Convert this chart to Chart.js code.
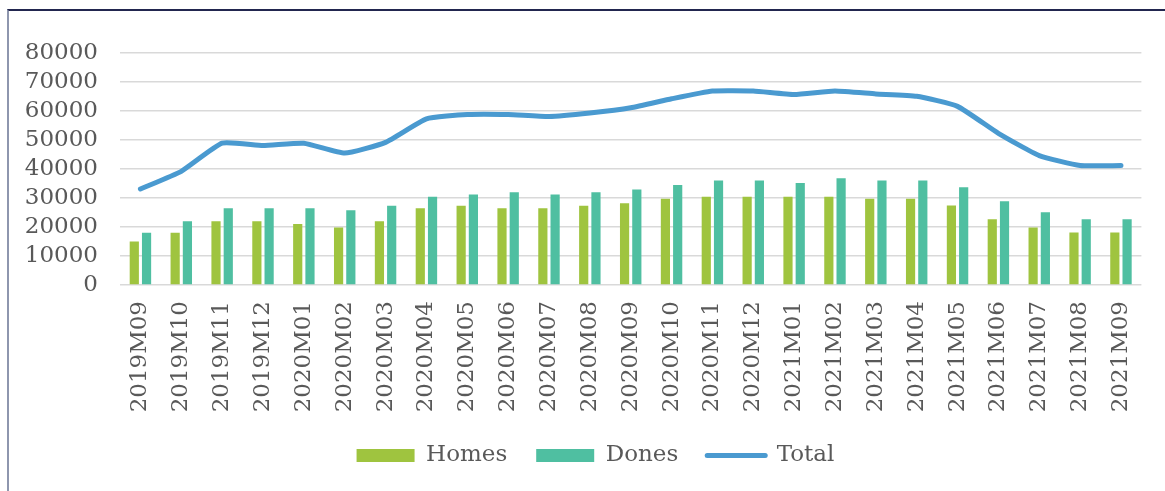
<!DOCTYPE html>
<html>
<head>
<meta charset="utf-8">
<script src="https://cdn.jsdelivr.net/npm/chart.js@4.4.1/dist/chart.umd.min.js"></script>
<style>
  html, body { margin: 0; padding: 0; background: #fff; }
  #wrap { position: relative; width: 1165px; height: 491px; }
  #frame { position: absolute; left: 7px; top: 9px; right: 0; bottom: 0;
           border-top: 2px solid #22264f; border-left: 2px solid #8e96ae; pointer-events: none; }
  canvas { position: absolute; left: 0; top: 0; }
</style>
</head>
<body>
<div id="wrap">
  <canvas id="c" width="1165" height="491"></canvas>
  <div id="frame"></div>
</div>
<script>
const categories = ["2019M09","2019M10","2019M11","2019M12","2020M01","2020M02","2020M03","2020M04","2020M05","2020M06","2020M07","2020M08","2020M09","2020M10","2020M11","2020M12","2021M01","2021M02","2021M03","2021M04","2021M05","2021M06","2021M07","2021M08","2021M09"];
const homes = [15000,18000,22000,22000,21000,19800,22000,26500,27300,26500,26500,27300,28200,29700,30400,30400,30400,30400,29700,29700,27400,22700,19800,18100,18100];
const dones = [18000,22000,26500,26500,26500,25800,27300,30400,31200,32000,31200,32000,32900,34500,36000,36000,35200,36800,36000,36000,33700,28900,25100,22700,22700];
const total = [33100,39200,48900,48100,48900,45500,49200,57300,58800,58800,58100,59300,61100,64200,66900,66900,65700,66900,65900,65100,61600,52300,44600,41200,41200];
const yTicks = [0,10000,20000,30000,40000,50000,60000,70000,80000];

const cHomes = "#9fc43f", cDones = "#4fbfa1", cTotal = "#4a9ad0";
const textColor = "#595959";
const FONT = "'DejaVu Serif', serif";
const legendOrder = ["Homes","Dones","Total"];

const shiftLegend = {
  id: "shiftLegend",
  afterLayout(chart) {
    if (chart.legend) { chart.legend.left += 19; chart.legend.right += 19; }
  }
};

new Chart(document.getElementById("c"), {
  type: "bar",
  data: {
    labels: categories,
    datasets: [
      { type: "line", label: "Total", data: total, borderColor: cTotal, backgroundColor: cTotal,
        borderWidth: 5, pointRadius: 0, tension: 0.15, borderCapStyle: "round", borderJoinStyle: "round", order: 0 },
      { label: "Homes", data: homes, backgroundColor: cHomes, barPercentage: 0.75, categoryPercentage: 0.6, order: 1 },
      { label: "Dones", data: dones, backgroundColor: cDones, barPercentage: 0.75, categoryPercentage: 0.6, order: 2 }
    ]
  },
  plugins: [shiftLegend],
  options: {
    responsive: false,
    animation: false,
    devicePixelRatio: 1,
    layout: { padding: { top: 53, left: 10, right: 22, bottom: 14 } },
    plugins: {
      tooltip: { enabled: false },
      legend: {
        position: "bottom",
        labels: {
          color: textColor,
          font: { family: FONT, size: 23 },
          usePointStyle: true,
          pointStyleWidth: 58,
          boxHeight: 13,
          padding: 29,
          sort: (a, b) => legendOrder.indexOf(a.text) - legendOrder.indexOf(b.text),
          generateLabels: (chart) => {
            const items = Chart.defaults.plugins.legend.labels.generateLabels(chart);
            items.forEach(it => {
              if (it.text === "Total") {
                it.pointStyle = "line"; it.lineWidth = 5; it.strokeStyle = cTotal; it.lineCap = "round";
              } else {
                it.pointStyle = "rect"; it.lineWidth = 0;
              }
            });
            return items;
          }
        }
      }
    },
    scales: {
      x: {
        grid: { display: false, drawTicks: false },
        border: { display: false },
        ticks: { color: textColor, font: { family: FONT, size: 23 }, minRotation: 90, maxRotation: 90, padding: 16, autoSkip: false },
        afterFit: (s) => { s.height = 130; }
      },
      y: {
        min: 0, max: 80000,
        afterBuildTicks: (s) => { s.ticks = yTicks.map(v => ({ value: v })); },
        grid: { color: "#d9d9d9", lineWidth: 1.5, drawTicks: false },
        border: { display: false },
        ticks: { color: textColor, font: { family: FONT, size: 23 }, padding: 22, autoSkip: false, callback: (v) => String(v) },
        afterFit: (s) => { s.width = 110; }
      }
    }
  }
});
</script>
</body>
</html>
